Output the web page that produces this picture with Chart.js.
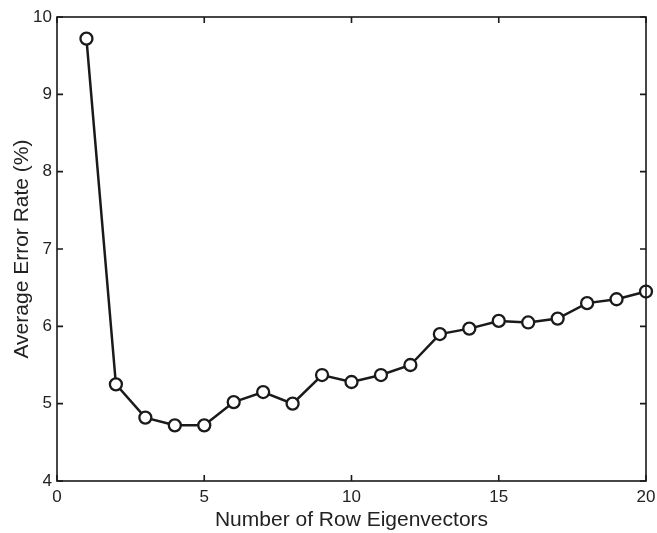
<!DOCTYPE html>
<html>
<head>
<meta charset="utf-8">
<script src="https://cdn.jsdelivr.net/npm/chart.js@4.4.1/dist/chart.umd.min.js"></script>
<style>
  html, body { margin: 0; padding: 0; background: #fff; }
  #wrap { width: 657px; height: 533px; }
</style>
</head>
<body>
<div id="wrap"><canvas id="c" width="657" height="533"></canvas></div>
<script>
// Number of row eigenvectors kept, and the resulting average error rate (%)
const rowEigenvectors = [1, 2, 3, 4, 5, 6, 7, 8, 9, 10, 11, 12, 13, 14, 15, 16, 17, 18, 19, 20];
const errorRate = [9.72, 5.25, 4.82, 4.72, 4.72, 5.02, 5.15, 5.00, 5.37, 5.28,
                   5.37, 5.50, 5.90, 5.97, 6.07, 6.05, 6.10, 6.30, 6.35, 6.45];
const xTicks = [0, 5, 10, 15, 20];
const yTicks = [4, 5, 6, 7, 8, 9, 10];

const ink = '#1a1a1a';
const textInk = '#222222';
const fontFamily = 'Liberation Sans, Arial, sans-serif';

// Box around the plot plus inward tick marks on all four sides
const boxTicks = {
  id: 'boxTicks',
  afterDatasetsDraw(chart) {
    const { ctx, chartArea: a, scales: { x, y } } = chart;
    const len = 6;
    ctx.save();
    ctx.strokeStyle = ink;
    ctx.lineWidth = 1.6;
    ctx.strokeRect(a.left, a.top, a.right - a.left, a.bottom - a.top);
    ctx.beginPath();
    xTicks.forEach(v => {
      const px = x.getPixelForValue(v);
      ctx.moveTo(px, a.bottom); ctx.lineTo(px, a.bottom - len);
      ctx.moveTo(px, a.top); ctx.lineTo(px, a.top + len);
    });
    yTicks.forEach(v => {
      const py = y.getPixelForValue(v);
      ctx.moveTo(a.left, py); ctx.lineTo(a.left + len, py);
      ctx.moveTo(a.right, py); ctx.lineTo(a.right - len, py);
    });
    ctx.stroke();
    ctx.restore();
  }
};

new Chart(document.getElementById('c'), {
  type: 'scatter',
  data: {
    datasets: [{
      data: rowEigenvectors.map((n, i) => ({ x: n, y: errorRate[i] })),
      showLine: true,
      borderColor: ink,
      borderWidth: 2.5,
      pointRadius: 6,
      pointBorderWidth: 2.3,
      pointBorderColor: ink,
      pointBackgroundColor: '#ffffff',
      pointHoverRadius: 6,
      clip: false
    }]
  },
  options: {
    responsive: false,
    animation: false,
    events: [],
    layout: { padding: { top: 17, right: 11, bottom: 0, left: 0 } },
    plugins: { legend: { display: false }, tooltip: { enabled: false } },
    scales: {
      x: {
        type: 'linear',
        min: 0, max: 20,
        afterBuildTicks(scale) { scale.ticks = xTicks.map(v => ({ value: v })); },
        afterFit(scale) { scale.height = 52; scale.paddingLeft = 0; scale.paddingRight = 0; },
        grid: { display: false, drawTicks: false },
        border: { display: false },
        ticks: {
          color: textInk,
          font: { family: fontFamily, size: 17 },
          padding: 6,
          maxRotation: 0
        },
        title: {
          display: true,
          text: 'Number of Row Eigenvectors',
          color: textInk,
          font: { family: fontFamily, size: 21 },
          padding: { top: 0, bottom: 0 }
        }
      },
      y: {
        type: 'linear',
        min: 4, max: 10,
        afterBuildTicks(scale) { scale.ticks = yTicks.map(v => ({ value: v })); },
        afterFit(scale) { scale.width = 57; scale.paddingTop = 0; scale.paddingBottom = 0; },
        grid: { display: false, drawTicks: false },
        border: { display: false },
        ticks: {
          color: textInk,
          font: { family: fontFamily, size: 17 },
          padding: 5
        },
        title: {
          display: true,
          text: 'Average Error Rate (%)',
          color: textInk,
          font: { family: fontFamily, size: 21 },
          padding: { top: 10, bottom: 0 }
        }
      }
    }
  },
  plugins: [boxTicks]
});
</script>
</body>
</html>
